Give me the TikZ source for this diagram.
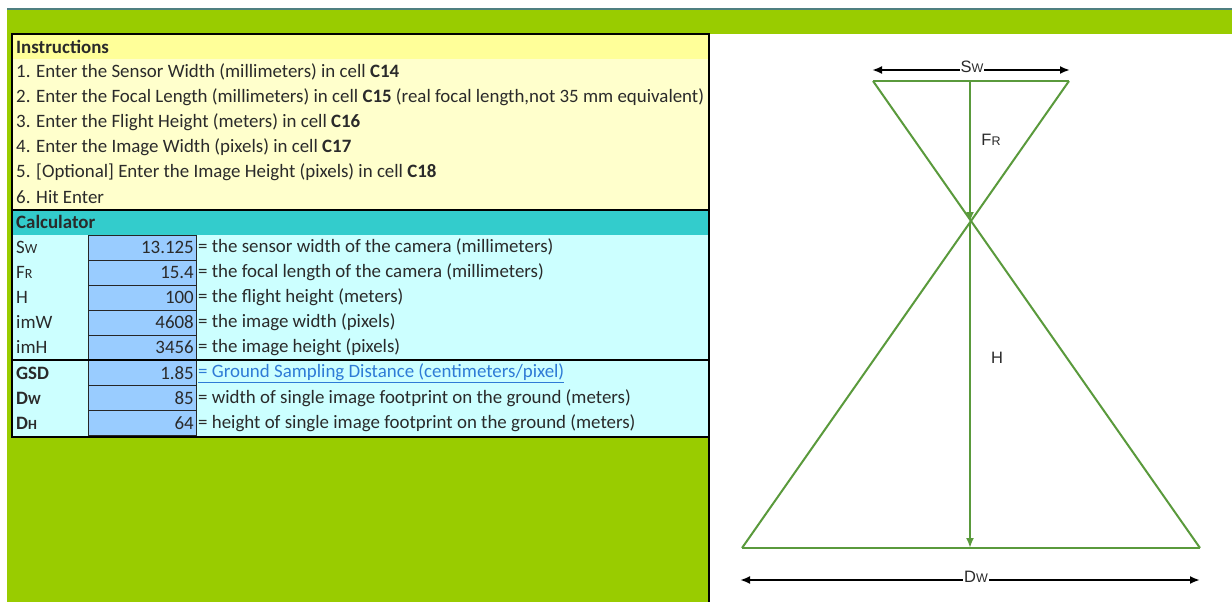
\documentclass[tikz,border=0pt]{standalone}
\usepackage{fontspec}
\setmainfont{Carlito}
\newfontfamily\arialf{Liberation Sans}
\usetikzlibrary{arrows.meta}
\definecolor{bggreen}{HTML}{99CC00}
\definecolor{topline}{HTML}{4F7F80}
\definecolor{hdryellow}{HTML}{FFFF99}
\definecolor{insyellow}{HTML}{FFFFCC}
\definecolor{calcteal}{HTML}{33CCCC}
\definecolor{calccyan}{HTML}{CCFFFF}
\definecolor{valblue}{HTML}{99CCFF}
\definecolor{txtgray}{HTML}{2A2A2A}
\definecolor{linkblue}{HTML}{2E7BD6}
\definecolor{dgreen}{HTML}{5A9A3C}
\tikzset{
  cell/.style={anchor=west, inner sep=0pt, font=\fontsize{18.9}{20}\selectfont, text=txtgray},
  valcell/.style={anchor=east, inner sep=0pt, font=\fontsize{18.9}{20}\selectfont, text=txtgray},
  valbox/.style={fill=valblue, draw=black!85, line width=0.9pt},
  dline/.style={draw=dgreen, line width=2pt},
  darrow/.style={draw=dgreen, line width=2pt, -{Latex[length=10pt,width=8pt]}},
  karrow/.style={draw=black, line width=2pt, {Latex[length=10pt,width=8pt]}-{Latex[length=10pt,width=8pt]}},
  dlabel/.style={font=\arialf\fontsize{16.5}{18}\selectfont, text=txtgray, inner sep=1pt},
}
\newcommand{\smc}[1]{{\fontsize{14}{15}\selectfont #1}}
\newcommand{\smd}[1]{{\fontsize{12.5}{13}\selectfont #1}}
\begin{document}
\begin{tikzpicture}[x=1pt,y=-1pt]
\useasboundingbox (0,0) rectangle (1232,602);
\fill[white] (0,0) rectangle (1232,602);
\fill[bggreen] (7,9) rectangle (1232,602);
\draw[topline, line width=1.5pt] (7,9) -- (1232,9);
\fill[white] (709,34) rectangle (1232,602);
% table fills
\fill[hdryellow] (12,35) rectangle (709,59);
\fill[insyellow] (12,59) rectangle (709,210);
\fill[calcteal] (12,210) rectangle (709,235);
\fill[calccyan] (12,235) rectangle (709,437);
\foreach \k in {0,...,7} {
  \draw[valbox] (88,235+25*\k) rectangle (196,260+25*\k);
}
\draw[line width=2pt] (12,210) -- (709,210);
\draw[line width=2pt] (12,360) -- (709,360);
\draw[line width=2.5pt] (12,34) rectangle (709,437);
\draw[line width=2pt] (709,34) -- (709,602);
% instructions
\node[cell, font=\fontsize{18.9}{20}\selectfont\bfseries] (ih) at (16,47) {Instructions};
\node[cell] (i1) at (16,72) {1. Enter the Sensor Width (millimeters) in cell \textbf{C14}};
\node[cell] (i2) at (16,97) {2. Enter the Focal Length (millimeters) in cell \textbf{C15} (real focal length,not 35 mm equivalent)};
\node[cell] (i3) at (16,122) {3. Enter the Flight Height (meters) in cell \textbf{C16}};
\node[cell] (i4) at (16,147) {4. Enter the Image Width (pixels) in cell \textbf{C17}};
\node[cell] (i5) at (16,172) {5. [Optional] Enter the Image Height (pixels) in cell \textbf{C18}};
\node[cell] (i6) at (16,197) {6. Hit Enter};
% calculator
\node[cell, font=\fontsize{18.9}{20}\selectfont\bfseries] (ch) at (16,222) {Calculator};
\node[cell] (l1) at (16,247) {S\smc{W}};
\node[cell] (l2) at (16,272) {F\smc{R}};
\node[cell] (l3) at (16,297) {H};
\node[cell] (l4) at (16,322) {imW};
\node[cell] (l5) at (16,347) {imH};
\node[cell, font=\fontsize{18.9}{20}\selectfont\bfseries] (l6) at (16,373) {GSD};
\node[cell, font=\fontsize{18.9}{20}\selectfont\bfseries] (l7) at (16,398) {D\smc{W}};
\node[cell, font=\fontsize{18.9}{20}\selectfont\bfseries] (l8) at (16,423) {D\smc{H}};
\node[valcell] (v1) at (194,247) {13.125};
\node[valcell] (v2) at (194,272) {15.4};
\node[valcell] (v3) at (194,297) {100};
\node[valcell] (v4) at (194,322) {4608};
\node[valcell] (v5) at (194,347) {3456};
\node[valcell] (v6) at (194,373) {1.85};
\node[valcell] (v7) at (194,398) {85};
\node[valcell] (v8) at (194,423) {64};
\node[cell] (d1) at (198,247) {= the sensor width of the camera (millimeters)};
\node[cell] (d2) at (198,272) {= the focal length of the camera (millimeters)};
\node[cell] (d3) at (198,297) {= the flight height (meters)};
\node[cell] (d4) at (198,322) {= the image width (pixels)};
\node[cell] (d5) at (198,347) {= the image height (pixels)};
\node[cell, text=linkblue] (d6) at (198,373) {\underline{= Ground Sampling Distance (centimeters/pixel)}};
\node[cell] (d7) at (198,398) {= width of single image footprint on the ground (meters)};
\node[cell] (d8) at (198,423) {= height of single image footprint on the ground (meters)};
% diagram
\coordinate (tl) at (873,81);
\coordinate (tr) at (1069,81);
\coordinate (tm) at (970,81);
\coordinate (apex) at (970,222);
\coordinate (bl) at (742,548);
\coordinate (br) at (1200,548);
\coordinate (bm) at (970,548);
\draw[dline] (tl) -- (tr);
\draw[dline] (tl) -- (br);
\draw[dline] (tr) -- (bl);
\draw[dline] (bl) -- (br);
\draw[darrow] (tm) -- (apex);
\draw[darrow] (apex) -- (bm);
\node[dlabel] (fr) at (991,140) {F\smd{R}};
\node[dlabel] (h) at (997,358) {H};
\coordinate (swl) at (872,70);
\coordinate (swr) at (1070,70);
\draw[karrow] (swl) -- (swr);
\node[dlabel, fill=white] (sw) at (972,67) {S\smd{W}};
\coordinate (dwl) at (740,580);
\coordinate (dwr) at (1200,580);
\draw[karrow] (dwl) -- (dwr);
\node[dlabel, fill=white] (dw) at (976,577) {D\smd{W}};
\end{tikzpicture}
\end{document}
